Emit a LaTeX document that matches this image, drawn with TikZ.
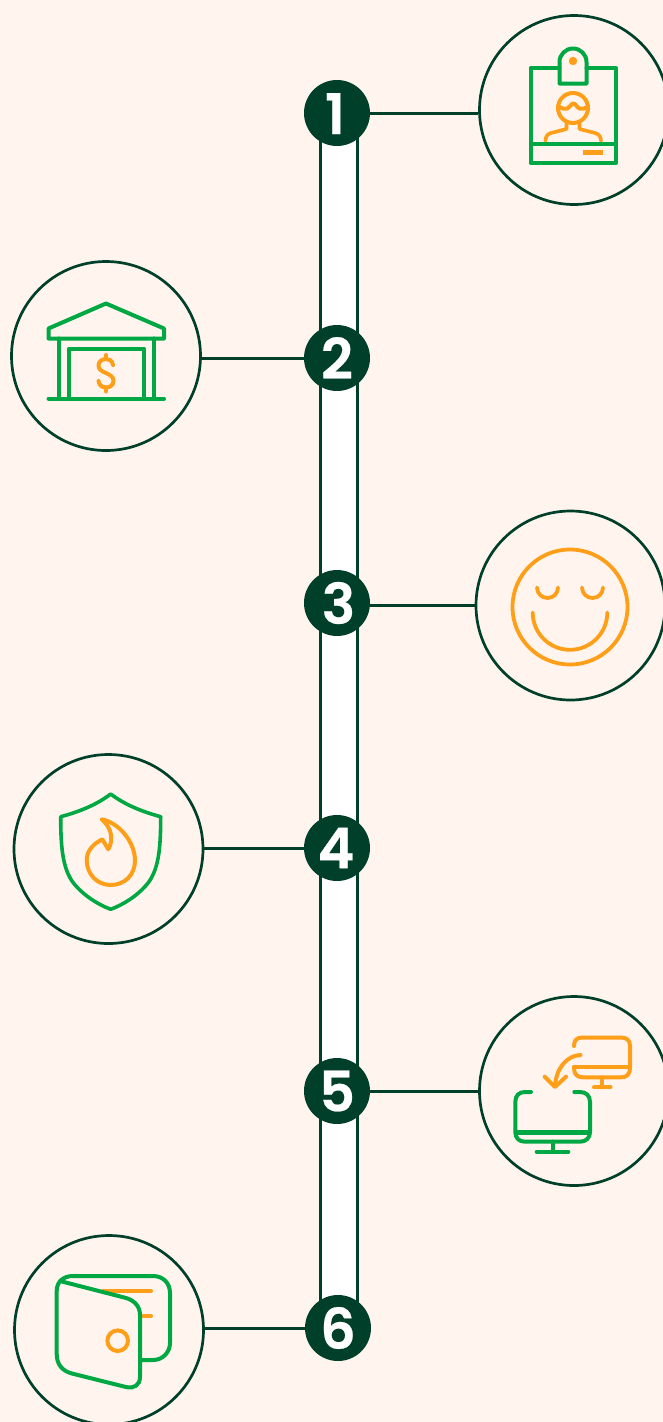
\documentclass[tikz,border=0pt]{standalone}
\usepackage{fontspec}
\setmainfont{Poppins}[BoldFont=* SemiBold,BoldFeatures={FakeBold=0.4}]
\definecolor{bgc}{HTML}{FFF5EE}
\definecolor{dark}{HTML}{00402A}
\definecolor{grn}{HTML}{00A844}
\definecolor{org}{HTML}{FF9E18}
\tikzset{
 numnode/.style={circle,fill=dark,text=white,minimum size=66pt,inner sep=0pt,font=\fontsize{56}{56}\selectfont\bfseries},
 iconcirc/.style={circle,draw=dark,line width=2.7pt,minimum size=189pt,inner sep=0pt},
 conn/.style={draw=dark,line width=3pt},
 gline/.style={draw=grn,line width=4pt,line join=round,line cap=round},
 oline/.style={draw=org,line width=4pt,line join=round,line cap=round},
}
\begin{document}
\begin{tikzpicture}[x=1pt,y=-1pt]
\useasboundingbox (0,0) rectangle (663,1422);
\fill[bgc] (0,0) rectangle (663,1422);
% bar
\filldraw[fill=white,draw=dark,line width=3pt] (320,113) rectangle (357,1328);
% numbers
\node[numnode] (n1) at (337,113) {\raisebox{-21pt}[20pt][20pt]{1}\hspace*{4pt}};
\node[numnode] (n2) at (337,358) {2};
\node[numnode] (n3) at (337,603) {\hspace*{3pt}3};
\node[numnode] (n4) at (337,848) {4\hspace*{2pt}};
\node[numnode] (n5) at (337,1091) {5};
\node[numnode] (n6) at (338,1328) {6};
% icon circles
\node[iconcirc] (c1) at (574,110) {};
\node[iconcirc] (c2) at (106,356) {};
\node[iconcirc] (c3) at (570.5,605.5) {};
\node[iconcirc] (c4) at (108.5,849) {};
\node[iconcirc] (c5) at (574,1091) {};
\node[iconcirc] (c6) at (109,1330) {};
% connectors
\draw[conn] (n1.east) -- (c1.west |- n1.east);
\draw[conn] (n2.west) -- (c2.east |- n2.west);
\coordinate (n3r) at ([yshift=-2pt]n3.east);
\draw[conn] (n3r) -- (c3.west |- n3r);
\draw[conn] (n4.west) -- (c4.east |- n4.west);
\draw[conn] (n5.east) -- (c5.west |- n5.east);
\draw[conn] (n6.west) -- (c6.east |- n6.west);
% icon 1: badge
\draw[oline] (573,108) circle (15);
\draw[oline] (558.5,106.5) .. controls (562,108.5) and (565,109.5) .. (567.5,108.5) .. controls (570,107.5) and (571,103.5) .. (573.3,103.5) .. controls (575.5,103.5) and (577,107.5) .. (579.5,108.5) .. controls (582,109.5) and (585,108.5) .. (588,106.5);
\draw[oline,line width=3.6pt] (566.5,123) -- (566.5,129) -- (551,133) .. controls (547,134) and (545.5,137) .. (545.5,141);
\draw[oline,line width=3.6pt] (579.5,123) -- (579.5,129) -- (595,133) .. controls (599,134) and (601,137) .. (601,141);
\draw[gline] (530.5,143.5) rectangle (616,163);
\draw[gline] (559.5,68) -- (530.5,68) -- (530.5,143.5);
\draw[gline] (586.5,68) -- (616,68) -- (616,143.5);
\draw[gline] (559.5,83.5) -- (559.5,62) arc[start angle=180,end angle=360,radius=13.5] -- (586.5,83.5) -- cycle;
\fill[org] (573,61) circle (4.2);
\fill[org] (583,150) rectangle (603,155);
% icon 2: bank
\draw[gline] (48.5,328.5) -- (106,303.5) -- (164,328.5) -- (164,338.5) -- (48.5,338.5) -- cycle;
\draw[gline] (59,338.5) -- (59,398.5);
\draw[gline] (153.5,338.5) -- (153.5,398.5);
\draw[gline] (69,398.5) -- (69,348.5) -- (143.5,348.5) -- (143.5,398.5);
\draw[gline] (48.5,398.5) -- (164,398.5);
\draw[oline] (113,365) .. controls (112,360) and (109,359) .. (106,359) .. controls (102,359) and (98.5,361.5) .. (98.5,365.5) .. controls (98.5,374) and (113.5,372) .. (113.5,381) .. controls (113.5,385) and (110,387.5) .. (106,387.5) .. controls (102,387.5) and (99,385) .. (98.5,381);
\draw[oline] (106,355) -- (106,359);
\draw[oline] (106,387.5) -- (106,391.5);
% icon 3: smile
\draw[oline,line width=3.8pt] (570,607) circle (57.5);
\draw[oline,line width=3.8pt] (537,587.5) arc[start angle=180,end angle=0,radius=10.5];
\draw[oline,line width=3.8pt] (582,587.5) arc[start angle=180,end angle=0,radius=10.5];
\draw[oline,line width=3.8pt] (532.7,612.5) arc[start angle=180,end angle=0,radius=37.3];
% icon 4: shield
\draw[gline,line width=3.6pt] (110.7,794) .. controls (97,804.5) and (80,811.5) .. (60.7,816.7) .. controls (60.7,850) and (63,872) .. (76,886) .. controls (85,896) and (97,904) .. (110.7,909.3) .. controls (124.5,904) and (136.5,896) .. (145.5,886) .. controls (158.5,872) and (160.7,850) .. (160.7,816.7) .. controls (141.5,811.5) and (124.5,804.5) .. (110.7,794) -- cycle;
\draw[oline] (101.7,819.3) .. controls (120,823) and (135,843) .. (135,860.5) .. controls (135,875) and (124.5,885) .. (110.7,885) .. controls (97,885) and (86.7,874) .. (86.7,860) .. controls (86.7,851) and (93,844) .. (102.3,839.3) -- (108.3,849.3) .. controls (113,841) and (113,829) .. (101.7,819.3) -- cycle;
% icon 5: monitors
\draw[oline] (574,1046) .. controls (574,1040) and (577,1037.5) .. (582,1037.5) -- (621,1037.5) .. controls (627,1037.5) and (630,1040.5) .. (630,1046) -- (630,1068) .. controls (630,1074) and (627,1077.3) .. (621,1077.3) -- (583,1077.3) .. controls (577,1077.3) and (574,1074) .. (574,1068) -- (574,1067);
\draw[oline] (574,1067.3) -- (630,1067.3);
\draw[oline] (602,1077.3) -- (602,1087.3);
\draw[oline] (594,1087.3) -- (610.5,1087.3);
\draw[oline] (580.5,1055) .. controls (567,1055.5) and (556,1068) .. (555,1086.5);
\draw[oline] (544.7,1076.7) -- (555,1087) -- (566,1076.7);
\draw[gline] (531,1092) -- (525,1092) .. controls (519,1092) and (515.3,1095.5) .. (515.3,1102) -- (515.3,1132) .. controls (515.3,1138) and (519,1141.7) .. (525,1141.7) -- (580,1141.7) .. controls (586,1141.7) and (590,1138) .. (590,1132) -- (590,1102) .. controls (590,1095.5) and (586,1092) .. (580,1092) -- (574.3,1092);
\draw[gline,line width=5pt,line cap=butt] (515.3,1132.3) -- (590,1132.3);
\draw[gline] (552.7,1141.7) -- (552.7,1151.7);
\draw[gline] (536.7,1151.7) -- (568.3,1151.7);
% icon 6: wallet
\draw[oline] (103.3,1290.7) -- (151,1290.7);
\draw[oline] (143,1315.7) -- (151,1315.7);
\draw[oline] (117.7,1340.7) circle (10.3);
\draw[gline] (140,1360) -- (153,1360) .. controls (163,1360) and (170,1352) .. (170,1343) -- (170,1293) .. controls (170,1283) and (163,1276) .. (153,1276) -- (73,1276) .. controls (63,1276) and (56.7,1282) .. (56.7,1291) -- (56.7,1354) .. controls (56.7,1364) and (62,1371) .. (72,1373.5) -- (126,1387) .. controls (134,1389) and (140,1385) .. (140,1377) -- (140,1315) .. controls (140,1306) and (134,1300) .. (125,1297.7) -- (60,1281);
\end{tikzpicture}
\end{document}
